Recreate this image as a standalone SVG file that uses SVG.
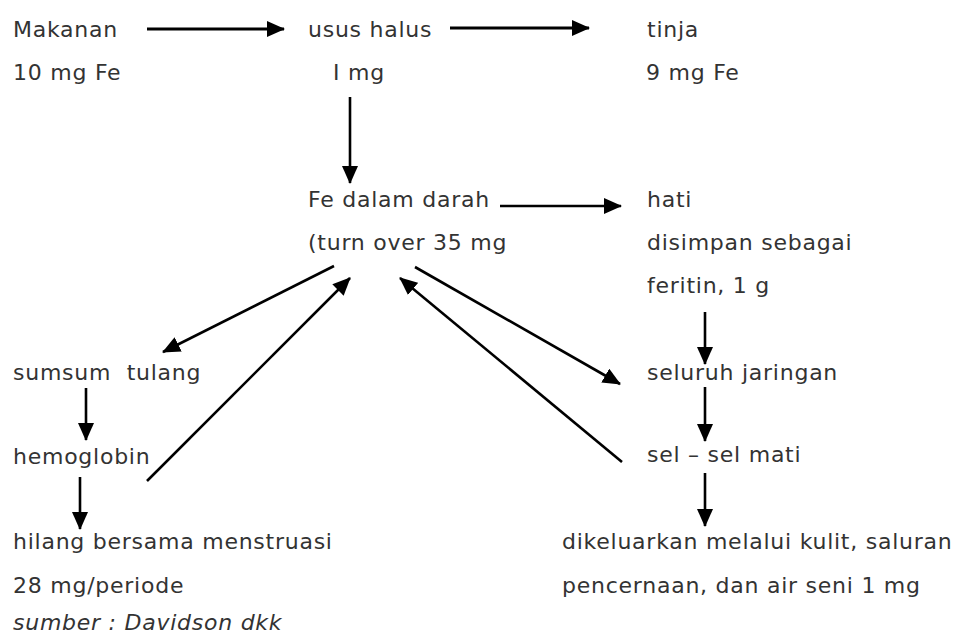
<svg xmlns="http://www.w3.org/2000/svg" width="960" height="637" viewBox="0 0 960 637">
<style>
text{font-family:"DejaVu Sans","Verdana","Liberation Sans",sans-serif;font-size:22px;fill:#333;letter-spacing:0.75px}
.it{font-style:italic}
.c{stroke:#000;stroke-width:2.6;fill:none}
.t{stroke-width:3.2}
</style>
<defs>
<marker id="ah" markerUnits="userSpaceOnUse" markerWidth="18" markerHeight="16" refX="17" refY="8" orient="auto">
<path d="M0,0 L18,8 L0,16 Z" fill="#000"/>
</marker>
</defs>
<rect width="960" height="637" fill="#fff"/>
<g id="connectors">
<line class="c t" x1="147" y1="29" x2="284" y2="29" marker-end="url(#ah)"/>
<line class="c t" x1="450" y1="28" x2="589" y2="28" marker-end="url(#ah)"/>
<line class="c" x1="350" y1="97" x2="350" y2="183" marker-end="url(#ah)"/>
<line class="c" x1="500" y1="206" x2="621" y2="206" marker-end="url(#ah)"/>
<line class="c" x1="334" y1="266" x2="163" y2="352" marker-end="url(#ah)"/>
<line class="c" x1="147" y1="481" x2="350" y2="278" marker-end="url(#ah)"/>
<line class="c" x1="415" y1="267" x2="620" y2="384" marker-end="url(#ah)"/>
<line class="c" x1="622" y1="462" x2="400" y2="278" marker-end="url(#ah)"/>
<line class="c" x1="86" y1="388" x2="86" y2="440" marker-end="url(#ah)"/>
<line class="c" x1="80" y1="477" x2="80" y2="529" marker-end="url(#ah)"/>
<line class="c" x1="705" y1="312" x2="705" y2="364" marker-end="url(#ah)"/>
<line class="c" x1="705" y1="387" x2="705" y2="441" marker-end="url(#ah)"/>
<line class="c" x1="705" y1="473" x2="705" y2="526" marker-end="url(#ah)"/>
</g>
<g id="makanan"><text x="13" y="37">Makanan</text><text x="13" y="80">10 mg Fe</text></g>
<g id="usus"><text x="308" y="37">usus halus</text><text x="333" y="80">I mg</text></g>
<g id="tinja"><text x="647" y="37">tinja</text><text x="646" y="80">9 mg Fe</text></g>
<g id="fe-darah"><text x="308" y="207">Fe dalam darah</text><text x="308" y="250">(turn over 35 mg</text></g>
<g id="hati"><text x="647" y="207">hati</text><text x="647" y="250">disimpan sebagai</text><text x="647" y="293">feritin, 1 g</text></g>
<g id="sumsum"><text x="13" y="380" xml:space="preserve">sumsum  tulang</text></g>
<g id="hemoglobin"><text x="13" y="464">hemoglobin</text></g>
<g id="hilang"><text x="13" y="549">hilang bersama menstruasi</text><text x="13" y="593">28 mg/periode</text></g>
<g id="jaringan"><text x="647" y="380">seluruh jaringan</text></g>
<g id="sel-mati"><text x="647" y="462">sel – sel mati</text></g>
<g id="dikeluarkan"><text x="562" y="549">dikeluarkan melalui kulit, saluran</text><text x="562" y="593">pencernaan, dan air seni 1 mg</text></g>
<g id="sumber"><text class="it" x="13" y="630">sumber : Davidson dkk</text></g>
</svg>
